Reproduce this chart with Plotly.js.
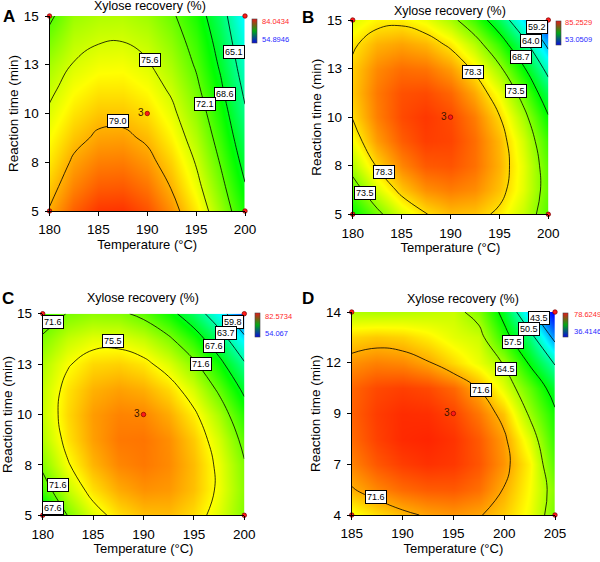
<!DOCTYPE html>
<html><head><meta charset="utf-8">
<script src="https://cdn.plot.ly/plotly-3.0.1.min.js"></script>
<style>html,body{margin:0;padding:0;background:#fff}</style>
</head><body><div id="chart" style="width:600px;height:562px"></div>
<script>
// ---------- data ----------
const tempABC = [180, 182.5, 185, 187.5, 190, 192.5, 195, 197.5, 200];
const timeABC = [5, 6.25, 7.5, 8.75, 10, 11.25, 12.5, 13.75, 15];
const tempD = [185, 187.5, 190, 192.5, 195, 197.5, 200, 202.5, 205];
const timeD = [4, 5.25, 6.5, 7.75, 9, 10.25, 11.5, 12.75, 14];

const xTicksABC = [180, 185, 190, 195, 200];
const xTicksD = [185, 190, 195, 200, 205];
const yTicksABC = [5, 7.5, 10, 12.5, 15];
const yTickTextABC = ['5', '8', '10', '13', '15'];
const yTicksD = [4, 6.5, 9, 11.5, 14];
const yTickTextD = ['4', '7', '9', '12', '14'];

// xylose recovery (%) read on a grid (rows = reaction time, columns = temperature)
const zA = [
  [79.2, 81.3, 82.5, 82.6, 81.7, 79.9, 77.3, 73.9, 69.9],
  [78.3, 80.3, 81.4, 81.5, 80.7, 78.9, 76.3, 72.9, 68.8],
  [77.4, 79.4, 80.4, 80.5, 79.7, 78.0, 75.4, 71.9, 67.7],
  [76.7, 78.4, 79.4, 79.5, 78.7, 77.0, 74.5, 71.0, 66.6],
  [75.9, 77.5, 78.4, 78.4, 77.7, 76.1, 73.6, 70.1, 65.5],
  [75.1, 76.6, 77.4, 77.4, 76.7, 75.2, 72.7, 69.1, 64.5],
  [74.2, 75.7, 76.4, 76.5, 75.8, 74.3, 71.8, 68.2, 63.5],
  [72.9, 74.8, 75.4, 75.5, 74.9, 73.4, 71.0, 67.4, 62.5],
  [71.6, 73.9, 74.5, 74.6, 74.0, 72.5, 70.1, 66.5, 61.5]
];
const zB = [
  [69.2, 72.7, 76.1, 78.2, 79.3, 79.1, 77.8, 75.4, 71.7],
  [71.9, 76.0, 79.0, 80.7, 81.3, 80.8, 79.1, 76.3, 72.2],
  [74.8, 78.5, 81.0, 82.4, 82.6, 81.7, 79.6, 76.4, 71.9],
  [77.0, 80.3, 82.3, 83.3, 83.1, 81.8, 79.4, 75.8, 70.9],
  [78.4, 81.2, 82.9, 83.5, 82.9, 81.3, 78.4, 74.4, 69.0],
  [79.0, 81.4, 82.7, 82.9, 82.0, 79.9, 76.7, 72.2, 66.3],
  [78.8, 80.9, 81.8, 81.6, 80.3, 77.8, 74.1, 69.1, 62.7],
  [77.9, 79.6, 80.1, 79.5, 77.8, 74.9, 70.7, 65.2, 58.3],
  [76.2, 77.5, 77.7, 76.7, 74.5, 71.1, 66.4, 60.4, 52.8]
];
const zC = [
  [66.0, 71.7, 74.5, 76.3, 77.2, 77.3, 76.4, 74.6, 71.9],
  [70.3, 73.8, 76.3, 77.8, 78.5, 78.3, 77.2, 75.1, 72.1],
  [72.1, 75.3, 77.5, 78.8, 79.2, 78.7, 77.3, 75.0, 71.8],
  [73.3, 76.2, 78.1, 79.2, 79.3, 78.6, 76.9, 74.3, 70.8],
  [73.9, 76.5, 78.2, 78.9, 78.8, 77.8, 75.9, 73.1, 69.2],
  [73.8, 76.2, 77.6, 78.1, 77.7, 76.5, 74.3, 71.1, 67.0],
  [73.2, 75.3, 76.5, 76.7, 76.1, 74.5, 72.1, 68.6, 64.1],
  [71.9, 73.8, 74.7, 74.7, 73.8, 72.0, 69.2, 65.4, 60.5],
  [70.1, 71.7, 72.3, 72.1, 70.9, 68.7, 65.6, 61.4, 56.2]
];
const zD = [
  [67.5, 69.4, 70.9, 71.9, 72.4, 71.8, 70.2, 67.5, 62.5],
  [71.3, 73.0, 74.2, 74.8, 74.9, 74.0, 71.4, 68.0, 63.0],
  [73.2, 75.0, 76.1, 76.6, 76.3, 75.1, 72.5, 68.5, 61.0],
  [74.2, 75.9, 76.9, 77.1, 76.5, 74.9, 72.1, 66.8, 59.5],
  [74.6, 76.1, 76.8, 76.7, 75.8, 73.7, 70.5, 64.0, 58.2],
  [74.4, 75.6, 76.0, 75.6, 74.3, 71.4, 67.0, 61.5, 55.4],
  [72.6, 73.3, 73.0, 71.8, 69.6, 67.3, 64.2, 57.0, 50.0],
  [69.8, 70.3, 69.9, 68.7, 67.0, 66.0, 59.2, 52.6, 42.0],
  [64.8, 64.7, 65.0, 65.4, 65.8, 63.0, 56.0, 44.8, 35.5]
];

// contour levels
const levelsA = [65.12, 68.60, 72.08, 75.56, 79.04];
const levelsB = [59.2, 63.97, 68.74, 73.51, 78.28];
const levelsC = [59.79, 63.715, 67.64, 71.565, 75.49];
const levelsD = [43.48, 50.5, 57.52, 64.54, 71.56];

// colour-bar range [low, high]
const cbA = [54.8946, 84.0434];
const cbB = [53.0509, 85.2529];
const cbC = [54.067, 82.5734];
const cbD = [36.4146, 78.6249];

// design points (factorial corners + centre point)
const designTempABC = [180, 180, 200, 200, 190];
const designTimeABC = [5, 15, 5, 15, 10];
const designTempD = [185, 185, 205, 205, 195];
const designTimeD = [4, 14, 4, 14, 9];
const designLabel = ['', '', '', '', '3'];

const panelLetters = ['A', 'B', 'C', 'D'];
const panelTitle = 'Xylose recovery (%)';
const xTitle = 'Temperature (°C)';
const yTitle = 'Reaction time (min)';

// ---------- presentation ----------
// where each contour value label sits: [level index, temperature, time]
const labelSpots = [
  [[0, 198.9, 13.15], [1, 197.95, 11.0], [2, 195.9, 10.5], [3, 190.3, 12.76], [4, 186.97, 9.6]],
  [[0, 198.8, 14.62], [1, 198.19, 13.94], [2, 197.24, 13.08], [3, 196.66, 11.35], [4, 192.3, 12.31], [4, 183.17, 7.2], [3, 181.23, 6.08]],
  [[0, 198.9, 14.6], [1, 198.15, 14.04], [2, 196.96, 13.38], [3, 195.74, 12.5], [4, 186.98, 13.63], [3, 181.0, 14.6], [3, 181.52, 6.52], [2, 181.0, 5.35]],
  [[0, 203.46, 13.72], [1, 202.41, 13.18], [2, 200.84, 12.52], [3, 200.18, 11.18], [4, 197.72, 10.14], [4, 187.39, 4.9]]
];

const panels = [
  {x: tempABC, y: timeABC, z: zA, lv: levelsA, cb: cbA, dx: designTempABC, dy: designTimeABC, xt: xTicksABC, yt: yTicksABC, ytt: yTickTextABC},
  {x: tempABC, y: timeABC, z: zB, lv: levelsB, cb: cbB, dx: designTempABC, dy: designTimeABC, xt: xTicksABC, yt: yTicksABC, ytt: yTickTextABC},
  {x: tempABC, y: timeABC, z: zC, lv: levelsC, cb: cbC, dx: designTempABC, dy: designTimeABC, xt: xTicksABC, yt: yTicksABC, ytt: yTickTextABC},
  {x: tempD, y: timeD, z: zD, lv: levelsD, cb: cbD, dx: designTempD, dy: designTimeD, xt: xTicksD, yt: yTicksD, ytt: yTickTextD}
];

const W = 600, H = 562;
const px = v => v / W, py = v => 1 - v / H;
// layout frames (pixels)
const frames = [
  {x0: 49.5, x1: 245, y0: 16, y1: 211, cbx: 252, cby: 31, lbx: 260, lby: [39.3, 22], tx: 150, ty: 6.5, lx: 9, ly: 17},
  {x0: 352.7, x1: 548.3, y0: 20, y1: 214.3, cbx: 556, cby: 32.5, lbx: 563.3, lby: [39.3, 22.7], tx: 449.7, ty: 10.8, lx: 308, ly: 17.7},
  {x0: 42.7, x1: 244.3, y0: 313.7, y1: 515.3, cbx: 255, cby: 325, lbx: 263.3, lby: [333.3, 316], tx: 143, ty: 298.3, lx: 8.3, ly: 298.7},
  {x0: 351.7, x1: 555, y0: 312, y1: 515, cbx: 563.3, cby: 325, lbx: 571.7, lby: [331.7, 314.3], tx: 463, ty: 299, lx: 308.3, ly: 298.3}
];

const scale = [[0, 'rgb(0,0,255)'], [0.25, 'rgb(0,255,255)'], [0.5, 'rgb(0,255,0)'], [0.75, 'rgb(255,255,0)'], [1, 'rgb(255,0,0)']];
const barScale = [[0, 'rgb(10,10,225)'], [0.5, 'rgb(0,170,20)'], [1, 'rgb(230,25,25)']];
const FONT = 'Liberation Sans, Arial, sans-serif';

const traces = [];
const layout = {
  width: W, height: H, margin: {l: 0, r: 0, t: 0, b: 0},
  paper_bgcolor: '#fff', plot_bgcolor: '#fff', showlegend: false,
  font: {family: FONT, color: '#000'}, annotations: []
};

panels.forEach((p, i) => {
  const f = frames[i];
  const n = i === 0 ? '' : String(i + 1);
  const xa = 'x' + n, ya = 'y' + n;
  const lv = p.lv;
  traces.push({
    type: 'contour', x: p.x, y: p.y, z: p.z, xaxis: xa, yaxis: ya,
    zauto: false, zmin: p.cb[0], zmax: p.cb[1], colorscale: scale,
    autocontour: false, showscale: false,
    contours: {coloring: 'heatmap', start: lv[0], end: lv[lv.length - 1] + 0.001,
      size: (lv[lv.length - 1] - lv[0]) / (lv.length - 1), showlabels: false},
    line: {color: '#000', width: 0.8, smoothing: 1.3},
    hoverinfo: 'skip'
  });
  // colour bar (carried by invisible markers holding the range ends)
  traces.push({
    type: 'scatter', mode: 'markers', x: [p.x[0], p.x[0]], y: [p.y[0], p.y[0]], xaxis: xa, yaxis: ya,
    marker: {color: p.cb, cmin: p.cb[0], cmax: p.cb[1], colorscale: barScale, size: 1, opacity: 0,
      showscale: true,
      colorbar: {x: px(f.cbx), xanchor: 'left', y: py(f.cby), yanchor: 'middle',
        lenmode: 'pixels', len: 24, thicknessmode: 'pixels', thickness: 5,
        xpad: 0, ypad: 0, outlinewidth: 0.6, outlinecolor: '#444',
        showticklabels: false, ticks: ''}},
    hoverinfo: 'skip'
  });
  traces.push({
    type: 'scatter', mode: 'markers+text', x: p.dx, y: p.dy, xaxis: xa, yaxis: ya,
    text: designLabel, textposition: 'middle left',
    textfont: {family: FONT, size: 10, color: '#3a1500'},
    marker: {size: 4.5, color: '#ff1a1a', line: {width: 0.7, color: '#700'}},
    cliponaxis: false, hoverinfo: 'skip'
  });
  const common = {showgrid: false, zeroline: false, showline: true, linecolor: '#000', linewidth: 1,
    ticks: 'outside', ticklen: 4, tickwidth: 1, tickcolor: '#000',
    tickfont: {family: FONT, size: 13.5, color: '#000'}, fixedrange: true};
  layout['xaxis' + n] = Object.assign({}, common, {
    domain: [px(f.x0), px(f.x1)], anchor: ya, range: [p.x[0], p.x[p.x.length - 1]],
    tickmode: 'array', tickvals: p.xt, ticktext: p.xt.map(String), ticklabelstandoff: 2,
    title: {text: xTitle, font: {family: FONT, size: 13, color: '#000'}, standoff: 2}
  });
  layout['yaxis' + n] = Object.assign({}, common, {
    domain: [py(f.y1), py(f.y0)], anchor: xa, range: [p.y[0], p.y[p.y.length - 1]],
    tickmode: 'array', tickvals: p.yt, ticktext: p.ytt, ticklabelstandoff: 3,
    title: {text: yTitle, font: {family: FONT, size: 13.5, color: '#000'}, standoff: 2}
  });
  // contour value labels in white boxes
  labelSpots[i].forEach(s => {
    layout.annotations.push({xref: xa, yref: ya, x: s[1], y: s[2], xanchor: 'center', yanchor: 'middle',
      text: lv[s[0]].toFixed(1), showarrow: false, bgcolor: '#fff', bordercolor: '#000', borderwidth: 1,
      borderpad: 1, font: {family: FONT, size: 9, color: '#000'}});
  });
  // colour-bar end values
  layout.annotations.push(
    {xref: 'paper', yref: 'paper', x: px(f.lbx), y: py(f.lby[1]), xanchor: 'left', yanchor: 'middle',
     text: String(p.cb[1]), showarrow: false, font: {family: FONT, size: 7.5, color: '#ff2a2a'}},
    {xref: 'paper', yref: 'paper', x: px(f.lbx), y: py(f.lby[0]), xanchor: 'left', yanchor: 'middle',
     text: String(p.cb[0]), showarrow: false, font: {family: FONT, size: 7.5, color: '#2a2aff'}},
    {xref: 'paper', yref: 'paper', x: px(f.tx), y: py(f.ty), xanchor: 'center', yanchor: 'middle',
     text: panelTitle, showarrow: false, font: {family: FONT, size: 12.5, color: '#000'}},
    {xref: 'paper', yref: 'paper', x: px(f.lx), y: py(f.ly), xanchor: 'center', yanchor: 'middle',
     text: '<b>' + panelLetters[i] + '</b>', showarrow: false, font: {family: FONT, size: 17, color: '#000'}}
  );
});

Plotly.newPlot('chart', traces, layout, {staticPlot: true, displayModeBar: false});
</script>
</body></html>
